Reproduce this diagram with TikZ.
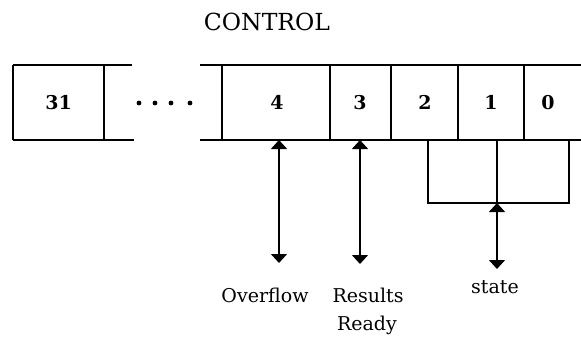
\documentclass[tikz,border=0pt]{standalone}
\usepackage{fontspec}
\setmainfont{DejaVu Serif}
\usetikzlibrary{arrows.meta}
\begin{document}
\begin{tikzpicture}[x=1pt,y=-1pt,
  line width=1.4pt,
  cell/.style={inner sep=0pt,font=\fontsize{19}{19}\selectfont\bfseries},
  lbl/.style={inner sep=0pt,font=\fontsize{19}{19}\selectfont},
  sig/.style={{Triangle[width=16pt,length=9pt]}-{Triangle[width=16pt,length=9pt]}}]
\useasboundingbox (0,0) rectangle (581,338);

% title
\node[lbl,font=\fontsize{23.5}{23.5}\selectfont] (title) at (267,22) {CONTROL};

% register cells
\node[cell] (c31) at (58.5,102.5) {31};
\node[cell] (c4) at (277,102.5) {4};
\node[cell] (c3) at (360,102.5) {3};
\node[cell] (c2) at (425,102.5) {2};
\node[cell] (c1) at (491,102.5) {1};
\node[cell] (c0) at (548,102.5) {0};

% the elided bits 30..5
\coordinate (dots) at (164,103);
\foreach \dx in {-25,-9,7,26} \fill ([xshift=\dx pt]dots) circle (2.4pt);

% borders: the high end
\draw (13,65) -- (132,65);
\draw (13,140) -- (134,140);
\draw (13,65) -- (13,140);
\draw (104,65) -- (104,140);
% borders: the low end
\draw (200,65) -- (581,65);
\draw (200,140) -- (581,140);
\foreach \x in {222,330,391,458,524} \draw (\x,65) -- (\x,140);

% signal ends
\coordinate (ovt) at (279,140);
\coordinate (ovb) at (279,263);
\coordinate (rrt) at (360,140);
\coordinate (rrb) at (360,264);
\coordinate (b2) at (428,140);
\coordinate (b1) at (497,140);
\coordinate (b0) at (569,140);
\coordinate (bl) at (428,203);
\coordinate (bm) at (497,203);
\coordinate (br) at (569,203);
\coordinate (stb) at (497,269);

% state bits 2..0 joined
\draw (b2) -- (bl) -- (br) -- (b0);
\draw (b1) -- (bm);

\draw[sig] (ovt) -- (ovb);
\draw[sig] (rrt) -- (rrb);
\draw[sig] (bm) -- (stb);

% labels
\node[lbl] (ovf) at (265,295) {Overflow};
\node[lbl] (res) at (368,295) {Results};
\node[lbl] (rdy) at (367,325) {Ready};
\node[lbl] (st) at (495,287) {state};
\end{tikzpicture}
\end{document}
